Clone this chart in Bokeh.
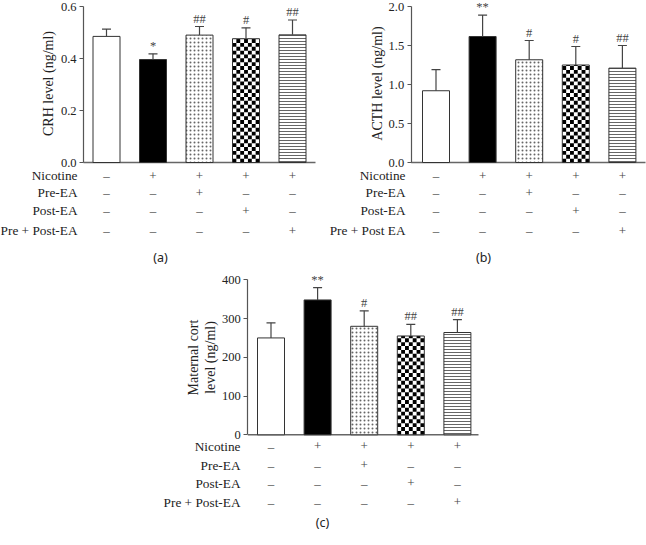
import math
from bokeh.plotting import figure
from bokeh.models import Range1d, LinearAxis, FixedTicker, Spacer, PrintfTickFormatter
from bokeh.layouts import row, column
from bokeh.embed import file_html
from bokeh.resources import INLINE
from bokeh.core.properties import value

# ---------------- data ----------------
groups = ["Control", "Nicotine", "Nicotine + Pre-EA", "Nicotine + Post-EA", "Nicotine + Pre + Post-EA"]

crh_mean = [0.485, 0.396, 0.490, 0.476, 0.491]
crh_err = [0.028, 0.022, 0.033, 0.042, 0.057]
crh_sig = ["", "*", "##", "#", "##"]
crh_ticks = [0.0, 0.2, 0.4, 0.6]

acth_mean = [0.92, 1.615, 1.317, 1.25, 1.21]
acth_err = [0.27, 0.275, 0.247, 0.237, 0.29]
acth_sig = ["", "**", "#", "#", "##"]
acth_ticks = [0.0, 0.5, 1.0, 1.5, 2.0]

cort_mean = [250, 348, 280, 255, 264]
cort_err = [39, 32, 40, 30, 33]
cort_sig = ["", "**", "#", "##", "##"]
cort_ticks = [0, 100, 200, 300, 400]

rows_a = ["Nicotine", "Pre-EA", "Post-EA", "Pre + Post-EA"]
rows_b = ["Nicotine", "Pre-EA", "Post-EA", "Pre + Post EA"]
rows_c = ["Nicotine", "Pre-EA", "Post-EA", "Pre + Post-EA"]
table_signs = [
    ["–", "+", "+", "+", "+"],
    ["–", "–", "+", "–", "–"],
    ["–", "–", "–", "+", "–"],
    ["–", "–", "–", "–", "+"],
]

SERIF = "Liberation Serif"
SANS = "Noto Sans"
INK = "#222222"

BAR_STYLES = [
    dict(fill_color="white"),
    dict(fill_color="black"),
    dict(fill_color="white", hatch_pattern="dot", hatch_scale=4, hatch_weight=1.0, hatch_color="#666666"),
    dict(fill_color="white"),  # checkerboard drawn as cells below
    dict(fill_color="white", hatch_pattern="horizontal_line", hatch_scale=3, hatch_weight=1.0, hatch_color="#666666"),
]
CHECKER_BAR = 3
BAR_PX = 27
CHECK_COLS = 7


def panel(W, H, bx0, sp, axis_px, axis_end_px, py0, pytop, ymax, ticks, fmt,
          mean, err, sig, ylabel_lines, ylabel_xs, ylabel_y, row_labels,
          label_right, row_px, caption, caption_xy):
    k = (py0 - pytop) / ymax  # pixels per unit
    p = figure(width=W, height=H,
               x_range=Range1d(-bx0 / sp, (W - bx0) / sp),
               y_range=Range1d((py0 - H) / k, py0 / k),
               x_axis_type=None, y_axis_type=None,
               output_backend="svg", toolbar_location=None,
               min_border=0, outline_line_color=None)
    p.extra_x_ranges = {"px": Range1d(0, W)}
    p.extra_y_ranges = {"px": Range1d(H, 0)}

    ax = LinearAxis(fixed_location=(axis_px - bx0) / sp, bounds=(0, ymax),
                    ticker=FixedTicker(ticks=ticks),
                    formatter=PrintfTickFormatter(format=fmt))
    ax.axis_line_color = "#555555"
    ax.axis_line_width = 1.2
    ax.major_tick_line_color = "#555555"
    ax.major_tick_in = 0
    ax.major_tick_out = 4
    ax.minor_tick_line_color = None
    ax.major_label_standoff = 3
    ax.major_label_text_font = SERIF
    ax.major_label_text_font_size = "12.5px"
    ax.major_label_text_color = INK
    p.add_layout(ax, "left")

    idx = list(range(len(mean)))
    x_axis_start = (axis_px - bx0) / sp
    x_axis_end = (axis_end_px - bx0) / sp
    p.segment(x0=[x_axis_start], y0=[0], x1=[x_axis_end], y1=[0],
              line_color="#666666", line_width=1.5)

    bw = BAR_PX / sp
    for i in idx:
        p.vbar(x=[i], top=[mean[i]], bottom=0, width=bw,
               line_color=None, **BAR_STYLES[i])

    # checkerboard cells for the 4th bar
    cw = bw / CHECK_COLS
    ch = (BAR_PX / CHECK_COLS) / k
    xc = CHECKER_BAR
    top_v = mean[CHECKER_BAR]
    L, R, B, T = [], [], [], []
    r = 0
    while r * ch < top_v:
        for c in range(CHECK_COLS):
            if (r + c) % 2 == 0:
                L.append(xc - bw / 2 + c * cw)
                R.append(xc - bw / 2 + (c + 1) * cw)
                B.append(r * ch)
                T.append(min((r + 1) * ch, top_v))
        r += 1
    p.quad(left=L, right=R, bottom=B, top=T, fill_color="black", line_color=None)

    # outlines
    p.vbar(x=idx, top=mean, bottom=0, width=bw, fill_color=None,
           line_color="#333333", line_width=1)

    tops = [m + e for m, e in zip(mean, err)]
    cap = 4.5 / sp
    p.segment(x0=idx, y0=mean, x1=idx, y1=tops, line_color="#444444", line_width=1.2)
    p.segment(x0=[i - cap for i in idx], y0=tops, x1=[i + cap for i in idx], y1=tops,
              line_color="#444444", line_width=1.2)

    p.text(x=idx, y=tops, text=sig, text_align="center", text_baseline="bottom",
           y_offset=-1, text_font=value(SERIF), text_font_size="12.5px", text_color="#444444")

    # y label
    p.text(x=ylabel_xs, y=[ylabel_y] * len(ylabel_lines), text=ylabel_lines,
           x_range_name="px", y_range_name="px", angle=math.pi / 2,
           text_align="center", text_baseline="middle",
           text_font=value(SERIF), text_font_size="14px", text_color=INK)

    # table
    for r, lab in enumerate(row_labels):
        p.text(x=[label_right], y=[row_px[r]], text=[lab],
               x_range_name="px", y_range_name="px",
               text_align="right", text_baseline="middle",
               text_font=value(SERIF), text_font_size="13.3px", text_color=INK)
        p.text(x=idx, y=[row_px[r]] * len(idx), text=table_signs[r],
               y_range_name="px", text_align="center", text_baseline="middle",
               text_font=value(SERIF), text_font_size="13px", text_color="#444444")

    p.text(x=[caption_xy[0]], y=[caption_xy[1]], text=[caption],
           x_range_name="px", y_range_name="px",
           text_align="center", text_baseline="middle",
           text_font=value(SANS), text_font_size="12.5px", text_color=INK)
    return p


pa = panel(324, 266, 106, 46.5, 83, 315, 162, 6, 0.6, crh_ticks, "%.1f",
           crh_mean, crh_err, crh_sig, ["CRH level (ng/ml)"], [48], 83,
           rows_a, 77, [175, 192, 210, 230], "(a)", (160, 257))

pb = panel(322, 266, 111.5, 46.6, 86.7, 321, 162, 6, 2.0, acth_ticks, "%.1f",
           acth_mean, acth_err, acth_sig, ["ACTH level (ng/ml)"], [53], 83,
           rows_b, 81, [175, 192, 210, 230], "(b)", (159, 257))

pc = panel(330, 279, 120.5, 46.6, 97.3, 328, 168.3, 13.3, 400, cort_ticks, "%d",
           cort_mean, cort_err, cort_sig, ["Maternal cort", "level (ng/ml)"], [43, 60], 91,
           rows_c, 90, [179.7, 198.5, 216.7, 235.7], "(c)", (172, 255.7))

layout = column(row(pa, pb),
                row(Spacer(width=150, height=279), pc))

open("out.html", "w").write(file_html(layout, INLINE))
